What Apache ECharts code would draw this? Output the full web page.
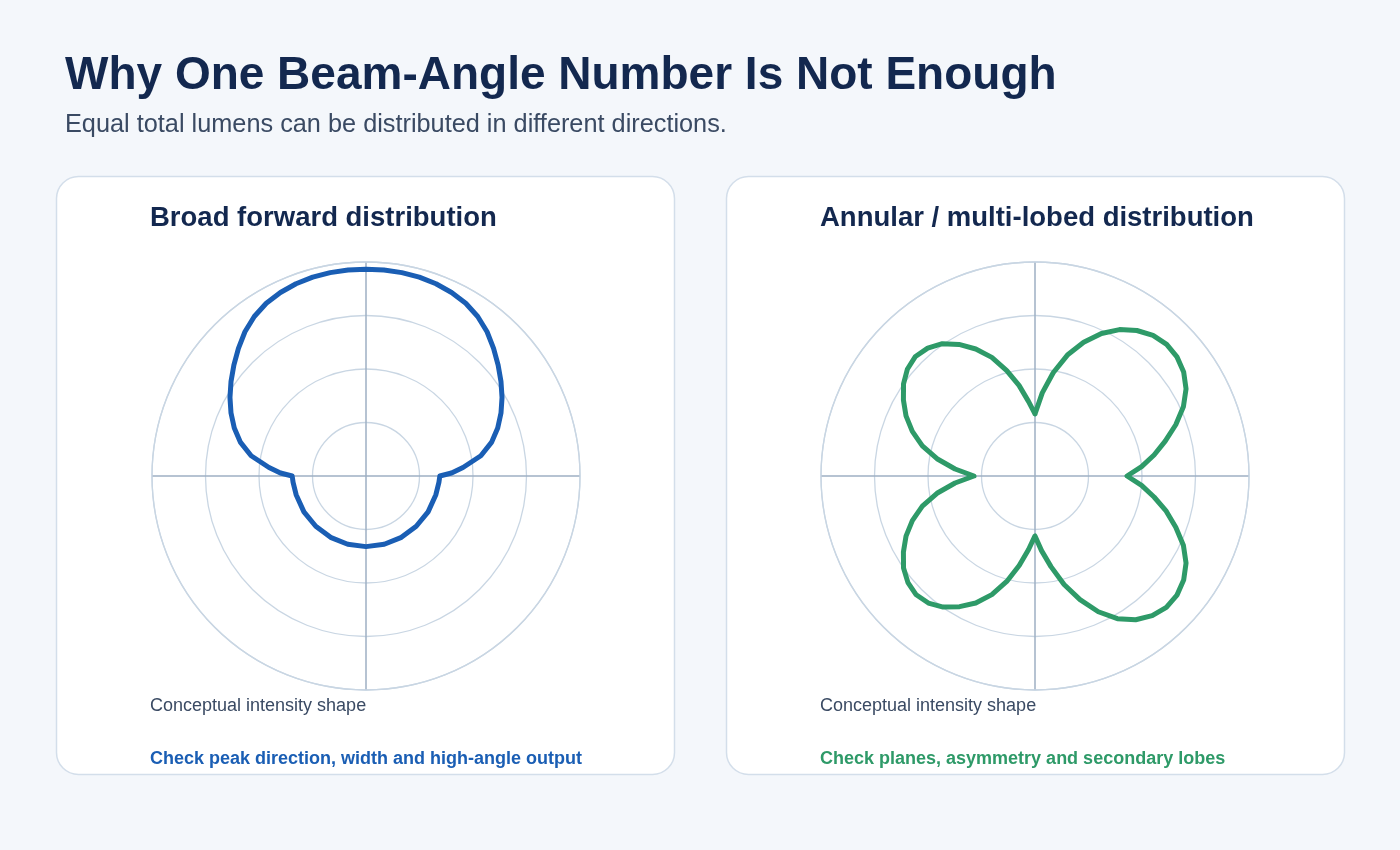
<!DOCTYPE html>
<html>
<head>
<meta charset="utf-8">
<script src="https://cdn.jsdelivr.net/npm/echarts@6/dist/echarts.min.js"></script>
<style>
  html, body { margin: 0; padding: 0; background: #f4f7fb; }
  #chart { width: 1400px; height: 850px; }
</style>
</head>
<body>
<div id="chart"></div>
<script>
// ---- Data ----
const pageTitle = 'Why One Beam-Angle Number Is Not Enough';
const pageSubtitle = 'Equal total lumens can be distributed in different directions.';
const panelTitles = ['Broad forward distribution', 'Annular / multi-lobed distribution'];
const panelCaption = 'Conceptual intensity shape';
const panelNotes = ['Check peak direction, width and high-angle output', 'Check planes, asymmetry and secondary lobes'];

// Angles in degrees, clockwise from the top (0 = up)
const broadAngles = [0, 5, 10, 15, 20, 25, 30, 35, 40, 45, 50, 55, 60, 65, 70, 75, 80, 85, 88,
  90, 95, 105, 120, 135, 150, 165, 180, 195, 210, 225, 240, 255, 265, 270,
  272, 275, 280, 285, 290, 295, 300, 305, 310, 315, 320, 325, 330, 335, 340, 345, 350, 355, 360];
const broadValues = [0.966, 0.966, 0.965, 0.962, 0.956, 0.946, 0.932, 0.910, 0.880, 0.843, 0.806, 0.770, 0.734, 0.696, 0.655, 0.607, 0.545, 0.455, 0.400,
  0.345, 0.342, 0.338, 0.335, 0.332, 0.331, 0.330, 0.330, 0.330, 0.331, 0.332, 0.335, 0.338, 0.342, 0.345,
  0.400, 0.455, 0.545, 0.607, 0.655, 0.696, 0.734, 0.770, 0.806, 0.843, 0.880, 0.910, 0.932, 0.946, 0.956, 0.962, 0.965, 0.966, 0.966];

const lobedAngles = [0, 5, 10, 15, 20, 25, 30, 35, 40, 45, 50, 55, 60, 65, 70, 75, 80, 85, 90,
  95, 100, 105, 110, 115, 120, 125, 130, 135, 140, 145, 150, 155, 160, 165, 170, 175, 180,
  185, 190, 195, 200, 205, 210, 215, 220, 225, 230, 235, 240, 245, 250, 255, 260, 265, 270,
  275, 280, 285, 290, 295, 300, 305, 310, 315, 320, 325, 330, 335, 340, 345, 350, 355, 360];
const lobedValues = [0.290, 0.390, 0.490, 0.585, 0.665, 0.735, 0.790, 0.830, 0.858, 0.870, 0.866, 0.848, 0.815, 0.765, 0.700, 0.630, 0.565, 0.500, 0.430,
  0.500, 0.565, 0.635, 0.700, 0.765, 0.815, 0.848, 0.866, 0.868, 0.852, 0.820, 0.770, 0.700, 0.615, 0.525, 0.430, 0.350, 0.280,
  0.345, 0.425, 0.510, 0.590, 0.655, 0.705, 0.748, 0.775, 0.785, 0.775, 0.750, 0.710, 0.665, 0.610, 0.545, 0.465, 0.375, 0.285,
  0.375, 0.465, 0.545, 0.610, 0.665, 0.710, 0.750, 0.778, 0.790, 0.780, 0.755, 0.710, 0.655, 0.590, 0.510, 0.430, 0.350, 0.290];

const ringTicks = [0, 0.25, 0.5, 0.75, 1];

// ---- Build chart ----
const BLUE = '#1a5eb4';
const GREEN = '#2e9a68';
const NAVY = '#13284f';
const SLATE = '#3a4a63';
const FONT = '"Liberation Sans", Arial, Helvetica, sans-serif';

function pairs(vals, angs) { return vals.map((v, i) => [v, angs[i]]); }

function lineSeries(polarIndex, data, color) {
  return {
    type: 'line', coordinateSystem: 'polar', polarIndex: polarIndex,
    data: data, showSymbol: false, smooth: false, clip: false,
    lineStyle: { color: color, width: 5, join: 'round', cap: 'round' }
  };
}

function polarDef(cx) {
  return { center: [cx, 476], radius: 214 };
}
function angleAxisDef(idx) {
  return {
    polarIndex: idx, type: 'value', min: 0, max: 360, interval: 90, startAngle: 90, clockwise: true,
    axisLine: { show: true, lineStyle: { color: '#c9d6e3', width: 1.3 } },
    axisTick: { show: false }, axisLabel: { show: false },
    splitLine: { show: true, lineStyle: { color: '#9fb0c3', width: 1.5 } }
  };
}
function radiusAxisDef(idx) {
  return {
    polarIndex: idx, type: 'value', min: ringTicks[0], max: ringTicks[ringTicks.length - 1], interval: 0.25,
    axisLine: { show: false }, axisTick: { show: false }, axisLabel: { show: false },
    splitLine: { show: true, lineStyle: { color: '#c9d6e3', width: 1.3 } }
  };
}

const panelXs = [56, 726];
const graphics = [];
panelXs.forEach((px, i) => {
  graphics.push({
    type: 'rect', z: -10,
    shape: { x: px + 0.5, y: 176.5, width: 618, height: 598, r: 22 },
    style: { fill: '#ffffff', stroke: '#d3deea', lineWidth: 1.5 }
  });
  graphics.push({
    type: 'text', z: 10, x: px + 94, y: 218,
    style: { text: panelTitles[i], font: 'bold 27.5px ' + FONT, fill: NAVY, textVerticalAlign: 'middle' }
  });
  graphics.push({
    type: 'text', z: 10, x: px + 94, y: 706,
    style: { text: panelCaption, font: '18px ' + FONT, fill: SLATE, textVerticalAlign: 'middle' }
  });
  graphics.push({
    type: 'text', z: 10, x: px + 94, y: 759,
    style: { text: panelNotes[i], font: 'bold 18px ' + FONT, fill: i === 0 ? BLUE : GREEN, textVerticalAlign: 'middle' }
  });
});
graphics.push({
  type: 'text', z: 10, x: 65, y: 76,
  style: { text: pageTitle, font: 'bold 46px ' + FONT, fill: NAVY, textVerticalAlign: 'middle' }
});
graphics.push({
  type: 'text', z: 10, x: 65, y: 125,
  style: { text: pageSubtitle, font: '25.3px ' + FONT, fill: SLATE, textVerticalAlign: 'middle' }
});

const chart = echarts.init(document.getElementById('chart'), null, { renderer: 'canvas' });
chart.setOption({
  backgroundColor: '#f4f7fb',
  animation: false,
  graphic: graphics,
  polar: [polarDef(366), polarDef(1035)],
  angleAxis: [angleAxisDef(0), angleAxisDef(1)],
  radiusAxis: [radiusAxisDef(0), radiusAxisDef(1)],
  series: [
    lineSeries(0, pairs(broadValues, broadAngles), BLUE),
    lineSeries(1, pairs(lobedValues, lobedAngles), GREEN)
  ]
});
</script>
</body>
</html>
